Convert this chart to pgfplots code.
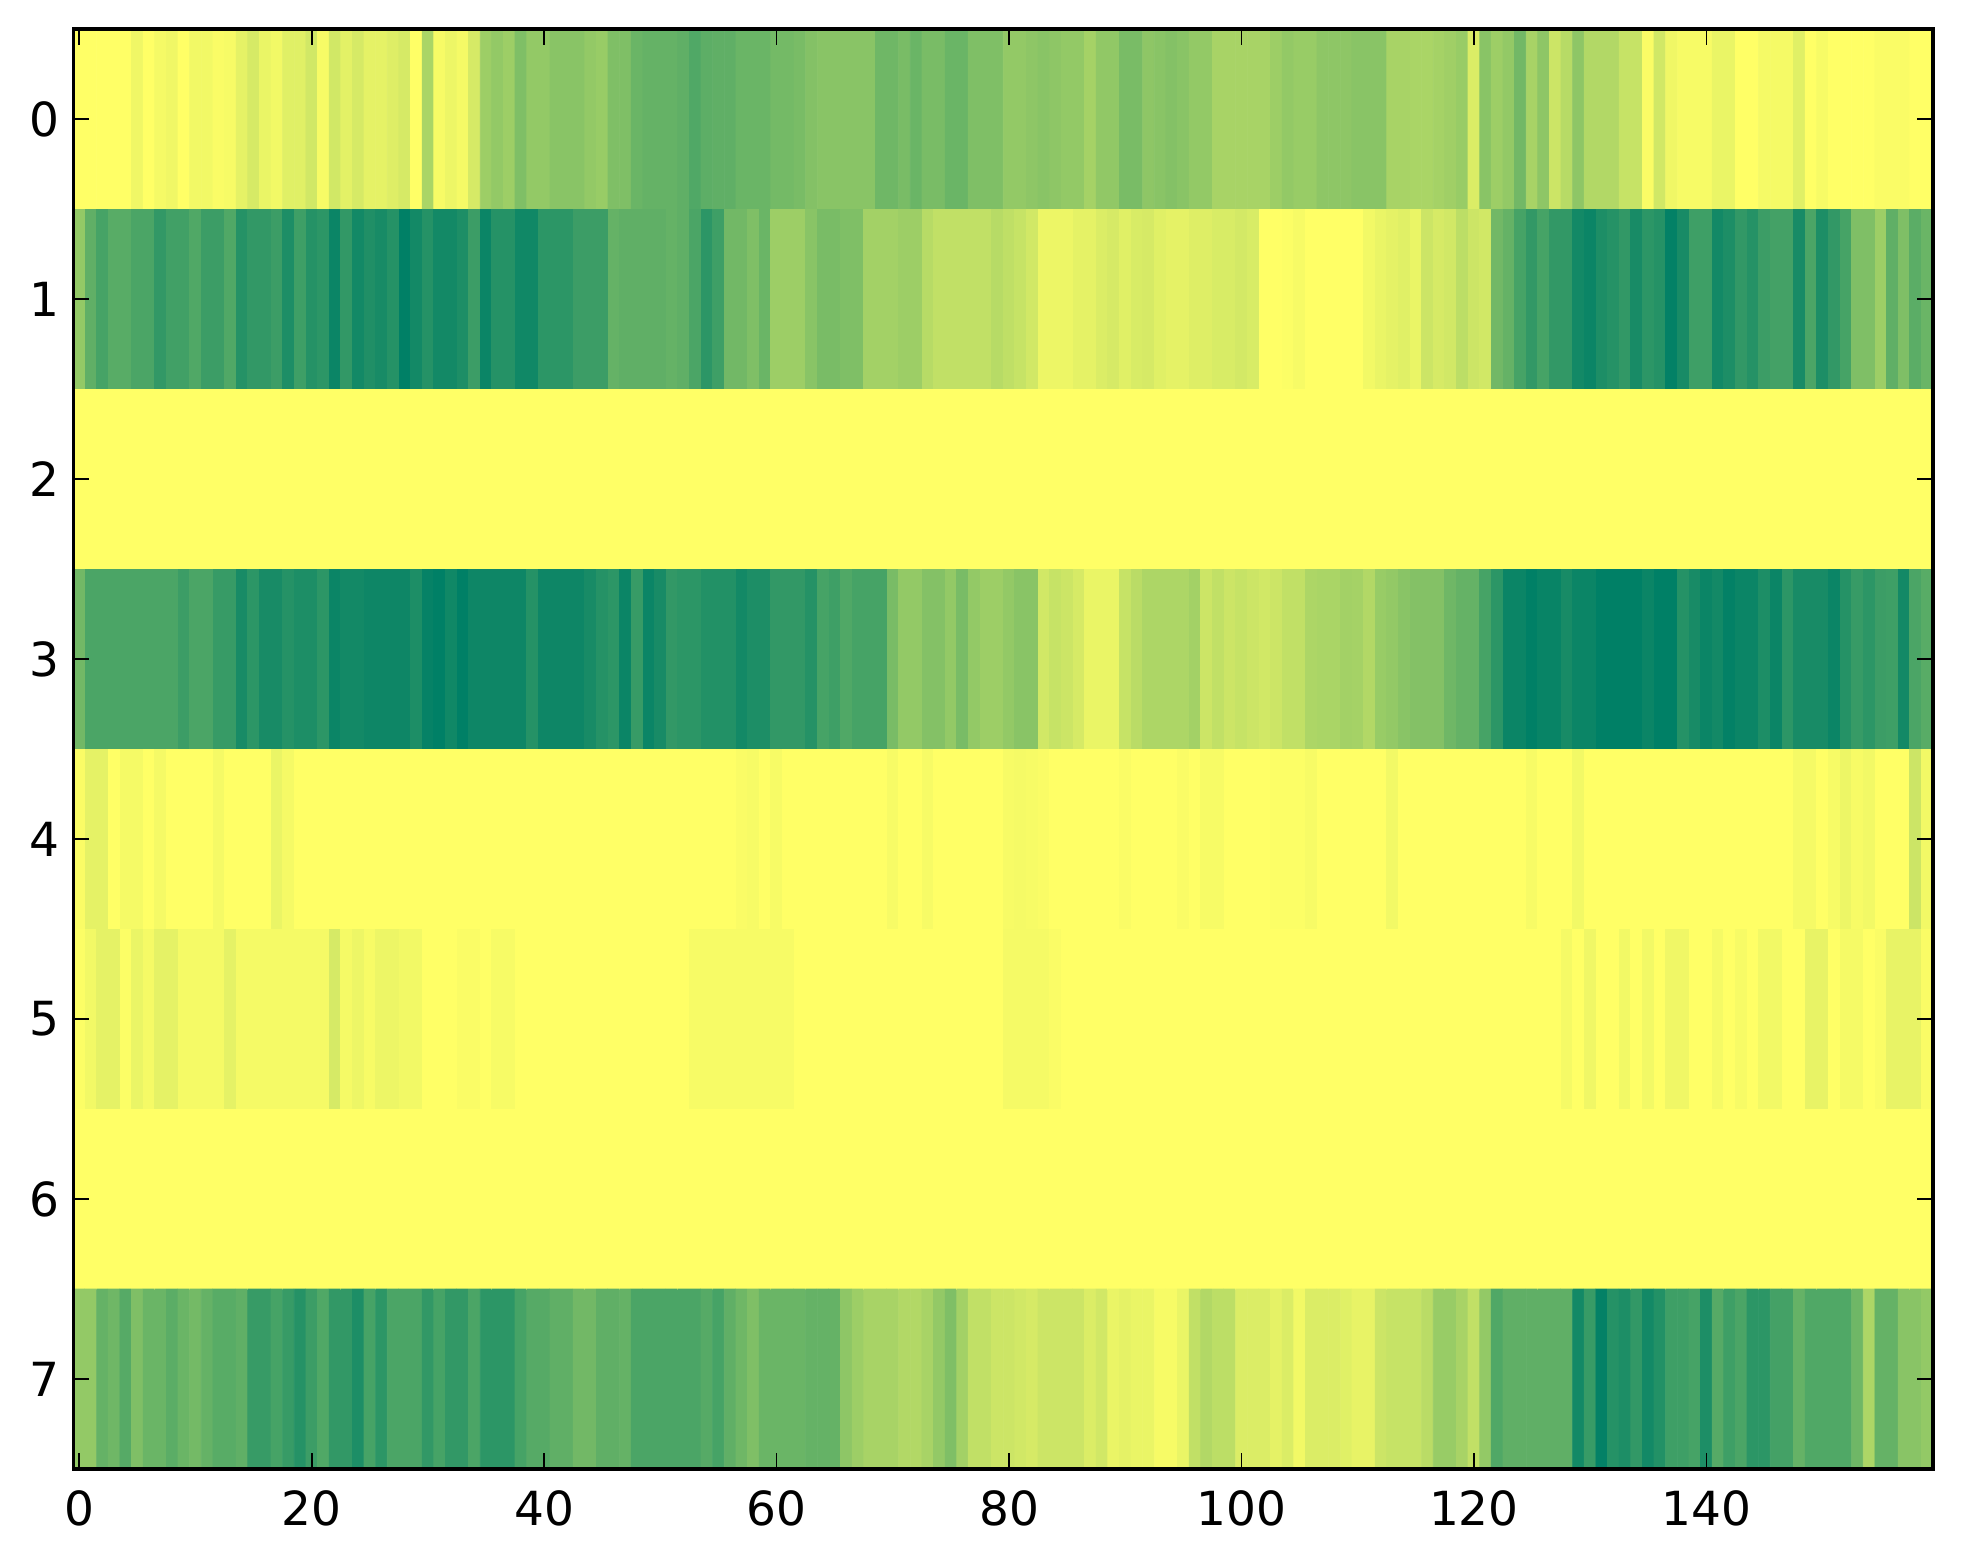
\documentclass[border=0pt]{standalone}
\usepackage{pgfplots}
\pgfplotsset{compat=1.18}
\usepackage{fontspec}
\setmainfont{DejaVu Sans}
\begin{document}
\begin{tikzpicture}[x=1pt,y=1pt]
\useasboundingbox (-36.75,-47.5) rectangle (944.75,734.5);
\begin{axis}[
  at={(0,0)}, anchor=south west,
  scale only axis, width=929.75pt, height=720pt,
  xmin=-0.5, xmax=159.5, ymin=-0.5, ymax=7.5, y dir=reverse,
  xtick={0,20,...,140}, ytick={0,...,7},
  tick align=inside, major tick length=8pt,
  tick style={black,line width=0.85pt},
  axis line style={black,line width=1.75pt},
  /pgf/number format/assume math mode=true,
  tick label style={font=\fontsize{23.5}{23.5}\selectfont},
  xticklabel style={yshift=-7.4pt},
  yticklabel style={xshift=-3.5pt},
  colormap={summerr}{rgb=(1,1,0.4) rgb=(0,0.5,0.4)},
  point meta min=0, point meta max=100,
  axis on top,
]
\addplot[matrix plot*, mesh/cols=160, mesh/ordering=x varies, point meta=explicit]
 table[row sep=crcr, header=false,
       x expr={mod(\coordindex,160)}, y expr={floor(\coordindex/160)}, meta index=0] {
0\\0\\0\\0\\0\\6\\0\\4\\6\\0\\
5\\5\\2\\3\\10\\16\\8\\5\\12\\12\\
18\\3\\18\\11\\16\\10\\10\\13\\16\\0\\
33\\3\\7\\4\\16\\38\\42\\38\\50\\42\\
42\\46\\46\\46\\42\\40\\50\\50\\58\\60\\
60\\60\\62\\68\\63\\62\\62\\58\\58\\58\\
54\\54\\52\\48\\46\\46\\46\\46\\46\\56\\
56\\52\\58\\52\\52\\58\\58\\50\\50\\50\\
42\\42\\44\\46\\44\\42\\42\\35\\43\\43\\
52\\52\\44\\46\\48\\46\\42\\42\\34\\34\\
34\\34\\34\\38\\42\\40\\40\\44\\44\\44\\
46\\46\\46\\34\\34\\33\\33\\35\\37\\40\\
14\\46\\38\\42\\55\\34\\44\\20\\28\\44\\
30\\30\\30\\22\\22\\2\\18\\6\\3\\3\\
3\\8\\8\\0\\0\\4\\4\\4\\12\\0\\
3\\0\\0\\0\\0\\2\\2\\2\\0\\0\\
42\\62\\72\\65\\65\\70\\70\\80\\74\\74\\
68\\76\\76\\68\\85\\80\\80\\76\\88\\75\\
85\\82\\95\\80\\92\\87\\90\\85\\100\\92\\
85\\92\\92\\88\\76\\95\\85\\85\\93\\93\\
82\\82\\82\\76\\76\\76\\60\\62\\62\\62\\
62\\60\\62\\70\\82\\75\\55\\55\\50\\58\\
38\\38\\38\\46\\52\\52\\50\\50\\36\\36\\
36\\38\\38\\28\\24\\24\\24\\24\\24\\28\\
25\\22\\18\\7\\7\\7\\10\\10\\14\\16\\
12\\15\\16\\12\\10\\10\\13\\13\\15\\15\\
17\\15\\0\\0\\1\\3\\0\\0\\0\\0\\
0\\5\\8\\10\\12\\8\\20\\16\\18\\26\\
20\\18\\55\\60\\72\\80\\72\\80\\80\\92\\
95\\88\\85\\80\\90\\82\\85\\98\\90\\75\\
75\\92\\88\\80\\85\\76\\73\\73\\90\\70\\
88\\80\\72\\50\\50\\38\\62\\50\\64\\58\\
0\\0\\0\\0\\0\\0\\0\\0\\0\\0\\
0\\0\\0\\0\\0\\0\\0\\0\\0\\0\\
0\\0\\0\\0\\0\\0\\0\\0\\0\\0\\
0\\0\\0\\0\\0\\0\\0\\0\\0\\0\\
0\\0\\0\\0\\0\\0\\0\\0\\0\\0\\
0\\0\\0\\0\\0\\0\\0\\0\\0\\0\\
0\\0\\0\\0\\0\\0\\0\\0\\0\\0\\
0\\0\\0\\0\\0\\0\\0\\0\\0\\0\\
0\\0\\0\\0\\0\\0\\0\\0\\0\\0\\
0\\0\\0\\0\\0\\0\\0\\0\\0\\0\\
0\\0\\0\\0\\0\\0\\0\\0\\0\\0\\
0\\0\\0\\0\\0\\0\\0\\0\\0\\0\\
0\\0\\0\\0\\0\\0\\0\\0\\0\\0\\
0\\0\\0\\0\\0\\0\\0\\0\\0\\0\\
0\\0\\0\\0\\0\\0\\0\\0\\0\\0\\
0\\0\\0\\0\\0\\0\\0\\0\\0\\0\\
55\\70\\70\\70\\70\\70\\70\\70\\70\\76\\
70\\70\\78\\78\\90\\82\\90\\90\\85\\88\\
88\\82\\95\\92\\92\\94\\94\\94\\94\\88\\
97\\100\\93\\100\\94\\94\\94\\94\\94\\85\\
94\\94\\94\\94\\90\\85\\82\\95\\78\\95\\
90\\80\\82\\82\\86\\86\\86\\92\\88\\88\\
80\\80\\80\\85\\72\\75\\68\\72\\72\\72\\
52\\42\\42\\48\\48\\42\\52\\42\\38\\38\\
42\\46\\46\\18\\22\\20\\16\\8\\8\\8\\
22\\27\\32\\32\\32\\32\\36\\20\\24\\20\\
22\\20\\18\\20\\24\\24\\32\\33\\33\\36\\
35\\30\\40\\42\\46\\48\\48\\48\\56\\60\\
60\\72\\82\\95\\95\\100\\96\\96\\90\\95\\
95\\100\\100\\100\\100\\95\\100\\100\\85\\90\\
95\\92\\98\\95\\95\\88\\95\\82\\90\\90\\
90\\95\\85\\78\\82\\76\\75\\92\\70\\65\\
2\\10\\10\\0\\4\\4\\0\\4\\0\\0\\
0\\0\\4\\0\\0\\0\\0\\8\\4\\0\\
0\\0\\0\\0\\0\\0\\0\\0\\0\\0\\
0\\0\\0\\0\\0\\0\\0\\0\\0\\0\\
0\\0\\0\\0\\0\\0\\0\\0\\0\\0\\
0\\0\\0\\0\\0\\0\\0\\2\\3\\0\\
3\\0\\0\\0\\0\\0\\0\\0\\0\\0\\
3\\0\\0\\3\\0\\0\\0\\0\\0\\0\\
3\\4\\3\\2\\0\\0\\0\\0\\0\\0\\
2\\0\\0\\0\\0\\2\\0\\3\\3\\0\\
0\\0\\0\\1\\1\\1\\3\\0\\0\\0\\
0\\0\\0\\5\\0\\0\\0\\0\\0\\0\\
0\\0\\0\\0\\0\\3\\0\\0\\0\\5\\
0\\0\\0\\0\\0\\0\\0\\0\\0\\0\\
0\\0\\0\\0\\0\\0\\0\\0\\4\\4\\
0\\3\\7\\3\\5\\0\\0\\0\\20\\5\\
1\\5\\10\\10\\1\\8\\4\\10\\10\\4\\
4\\4\\4\\10\\4\\4\\4\\4\\4\\4\\
4\\4\\16\\4\\7\\3\\7\\7\\5\\5\\
0\\0\\0\\2\\2\\0\\3\\3\\0\\0\\
0\\0\\0\\0\\0\\0\\0\\0\\0\\0\\
0\\0\\0\\3\\3\\3\\3\\3\\3\\3\\
3\\3\\0\\0\\0\\0\\0\\0\\0\\0\\
0\\0\\0\\0\\0\\0\\0\\0\\0\\0\\
4\\4\\4\\4\\2\\0\\0\\0\\0\\0\\
0\\0\\0\\0\\0\\0\\0\\0\\0\\0\\
0\\0\\0\\0\\0\\0\\0\\0\\0\\0\\
0\\0\\0\\0\\0\\0\\0\\0\\0\\0\\
0\\0\\0\\0\\0\\0\\0\\0\\4\\0\\
6\\0\\0\\5\\0\\5\\0\\6\\6\\0\\
0\\4\\0\\3\\0\\5\\5\\0\\0\\9\\
9\\0\\4\\4\\0\\2\\9\\9\\9\\2\\
0\\0\\0\\0\\0\\0\\0\\0\\0\\0\\
0\\0\\0\\0\\0\\0\\0\\0\\0\\0\\
0\\0\\0\\0\\0\\0\\0\\0\\0\\0\\
0\\0\\0\\0\\0\\0\\0\\0\\0\\0\\
0\\0\\0\\0\\0\\0\\0\\0\\0\\0\\
0\\0\\0\\0\\0\\0\\0\\0\\0\\0\\
0\\0\\0\\0\\0\\0\\0\\0\\0\\0\\
0\\0\\0\\0\\0\\0\\0\\0\\0\\0\\
0\\0\\0\\0\\0\\0\\0\\0\\0\\0\\
0\\0\\0\\0\\0\\0\\0\\0\\0\\0\\
0\\0\\0\\0\\0\\0\\0\\0\\0\\0\\
0\\0\\0\\0\\0\\0\\0\\0\\0\\0\\
0\\0\\0\\0\\0\\0\\0\\0\\0\\0\\
0\\0\\0\\0\\0\\0\\0\\0\\0\\0\\
0\\0\\0\\0\\0\\0\\0\\0\\0\\0\\
0\\0\\0\\0\\0\\0\\0\\0\\0\\0\\
42\\42\\60\\56\\66\\50\\58\\58\\64\\58\\
54\\60\\65\\65\\62\\78\\78\\72\\78\\85\\
76\\68\\80\\80\\88\\72\\82\\70\\70\\70\\
80\\72\\80\\80\\70\\82\\82\\82\\72\\66\\
66\\62\\62\\55\\55\\62\\62\\60\\70\\70\\
70\\70\\70\\70\\66\\72\\62\\56\\50\\58\\
58\\58\\58\\60\\60\\60\\44\\38\\34\\34\\
34\\30\\30\\34\\42\\50\\36\\24\\24\\20\\
20\\18\\16\\20\\20\\20\\20\\14\\18\\8\\
10\\8\\8\\3\\3\\8\\24\\30\\26\\26\\
14\\14\\14\\10\\14\\5\\14\\14\\14\\12\\
9\\9\\20\\22\\22\\22\\27\\40\\40\\34\\
24\\42\\68\\62\\62\\62\\62\\62\\62\\92\\
78\\98\\85\\88\\80\\92\\86\\75\\75\\72\\
88\\66\\75\\70\\82\\82\\73\\73\\60\\68\\
68\\68\\68\\56\\32\\60\\60\\46\\46\\42\\
};
\end{axis}
\end{tikzpicture}
\end{document}
